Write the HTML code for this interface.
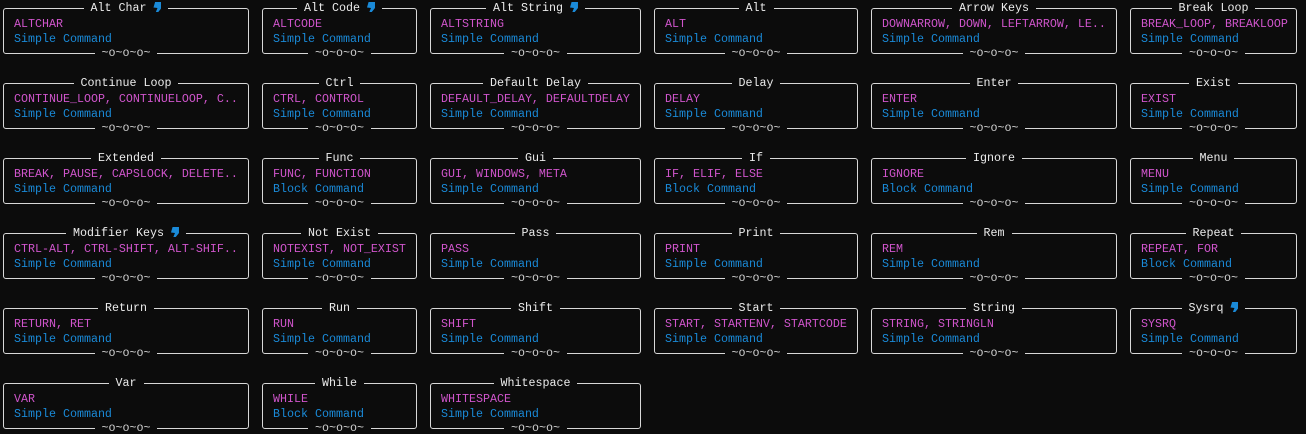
<!DOCTYPE html>
<html><head><meta charset="utf-8"><style>
html,body{margin:0;padding:0;background:#0c0c0c;width:1306px;height:434px;overflow:hidden}
body{position:relative;font-family:"Liberation Mono",monospace;font-size:11.67px;line-height:15px}
.b{position:absolute;box-sizing:border-box;height:46px;border:1px solid #d8d8d8;border-radius:3px}
.t{position:absolute;top:-8px;left:0;right:0;text-align:center;white-space:nowrap}
.t span{background:#0c0c0c;color:#ececec;padding:0 7px}
.f{position:absolute;bottom:-8px;left:0;right:0;text-align:center;white-space:nowrap}
.f span{background:#0c0c0c;color:#cfcfcf;padding:0 7px}
.l1,.l2{position:absolute;left:10px;white-space:nowrap}
.l1{top:8px;color:#d055cc}.l2{top:23px;color:#1a8ad8}
.c1{left:3px;width:246px}.c2{left:262px;width:155px}.c3{left:430px;width:211px}
.c4{left:654px;width:204px}.c5{left:871px;width:246px}.c6{left:1130px;width:167px}
.r0{top:8px}.r1{top:83px}.r2{top:158px}.r3{top:233px}.r4{top:308px}.r5{top:383px}
.i{display:inline-block;width:8px;height:10px;background:#1a8ad8;clip-path:polygon(20% 0,100% 0,100% 60%,60% 100%,30% 100%,50% 60%,0 55%);vertical-align:-1px;margin-left:7px}
</style></head><body>
<div class="b c1 r0"><div class="t"><span>Alt Char<i class="i"></i></span></div><div class="l1">ALTCHAR</div><div class="l2">Simple Command</div><div class="f"><span>~o~o~o~</span></div></div>
<div class="b c2 r0"><div class="t"><span>Alt Code<i class="i"></i></span></div><div class="l1">ALTCODE</div><div class="l2">Simple Command</div><div class="f"><span>~o~o~o~</span></div></div>
<div class="b c3 r0"><div class="t"><span>Alt String<i class="i"></i></span></div><div class="l1">ALTSTRING</div><div class="l2">Simple Command</div><div class="f"><span>~o~o~o~</span></div></div>
<div class="b c4 r0"><div class="t"><span>Alt</span></div><div class="l1">ALT</div><div class="l2">Simple Command</div><div class="f"><span>~o~o~o~</span></div></div>
<div class="b c5 r0"><div class="t"><span>Arrow Keys</span></div><div class="l1">DOWNARROW, DOWN, LEFTARROW, LE..</div><div class="l2">Simple Command</div><div class="f"><span>~o~o~o~</span></div></div>
<div class="b c6 r0"><div class="t"><span>Break Loop</span></div><div class="l1">BREAK_LOOP, BREAKLOOP</div><div class="l2">Simple Command</div><div class="f"><span>~o~o~o~</span></div></div>

<div class="b c1 r1"><div class="t"><span>Continue Loop</span></div><div class="l1">CONTINUE_LOOP, CONTINUELOOP, C..</div><div class="l2">Simple Command</div><div class="f"><span>~o~o~o~</span></div></div>
<div class="b c2 r1"><div class="t"><span>Ctrl</span></div><div class="l1">CTRL, CONTROL</div><div class="l2">Simple Command</div><div class="f"><span>~o~o~o~</span></div></div>
<div class="b c3 r1"><div class="t"><span>Default Delay</span></div><div class="l1">DEFAULT_DELAY, DEFAULTDELAY</div><div class="l2">Simple Command</div><div class="f"><span>~o~o~o~</span></div></div>
<div class="b c4 r1"><div class="t"><span>Delay</span></div><div class="l1">DELAY</div><div class="l2">Simple Command</div><div class="f"><span>~o~o~o~</span></div></div>
<div class="b c5 r1"><div class="t"><span>Enter</span></div><div class="l1">ENTER</div><div class="l2">Simple Command</div><div class="f"><span>~o~o~o~</span></div></div>
<div class="b c6 r1"><div class="t"><span>Exist</span></div><div class="l1">EXIST</div><div class="l2">Simple Command</div><div class="f"><span>~o~o~o~</span></div></div>

<div class="b c1 r2"><div class="t"><span>Extended</span></div><div class="l1">BREAK, PAUSE, CAPSLOCK, DELETE..</div><div class="l2">Simple Command</div><div class="f"><span>~o~o~o~</span></div></div>
<div class="b c2 r2"><div class="t"><span>Func</span></div><div class="l1">FUNC, FUNCTION</div><div class="l2">Block Command</div><div class="f"><span>~o~o~o~</span></div></div>
<div class="b c3 r2"><div class="t"><span>Gui</span></div><div class="l1">GUI, WINDOWS, META</div><div class="l2">Simple Command</div><div class="f"><span>~o~o~o~</span></div></div>
<div class="b c4 r2"><div class="t"><span>If</span></div><div class="l1">IF, ELIF, ELSE</div><div class="l2">Block Command</div><div class="f"><span>~o~o~o~</span></div></div>
<div class="b c5 r2"><div class="t"><span>Ignore</span></div><div class="l1">IGNORE</div><div class="l2">Block Command</div><div class="f"><span>~o~o~o~</span></div></div>
<div class="b c6 r2"><div class="t"><span>Menu</span></div><div class="l1">MENU</div><div class="l2">Simple Command</div><div class="f"><span>~o~o~o~</span></div></div>

<div class="b c1 r3"><div class="t"><span>Modifier Keys<i class="i"></i></span></div><div class="l1">CTRL-ALT, CTRL-SHIFT, ALT-SHIF..</div><div class="l2">Simple Command</div><div class="f"><span>~o~o~o~</span></div></div>
<div class="b c2 r3"><div class="t"><span>Not Exist</span></div><div class="l1">NOTEXIST, NOT_EXIST</div><div class="l2">Simple Command</div><div class="f"><span>~o~o~o~</span></div></div>
<div class="b c3 r3"><div class="t"><span>Pass</span></div><div class="l1">PASS</div><div class="l2">Simple Command</div><div class="f"><span>~o~o~o~</span></div></div>
<div class="b c4 r3"><div class="t"><span>Print</span></div><div class="l1">PRINT</div><div class="l2">Simple Command</div><div class="f"><span>~o~o~o~</span></div></div>
<div class="b c5 r3"><div class="t"><span>Rem</span></div><div class="l1">REM</div><div class="l2">Simple Command</div><div class="f"><span>~o~o~o~</span></div></div>
<div class="b c6 r3"><div class="t"><span>Repeat</span></div><div class="l1">REPEAT, FOR</div><div class="l2">Block Command</div><div class="f"><span>~o~o~o~</span></div></div>

<div class="b c1 r4"><div class="t"><span>Return</span></div><div class="l1">RETURN, RET</div><div class="l2">Simple Command</div><div class="f"><span>~o~o~o~</span></div></div>
<div class="b c2 r4"><div class="t"><span>Run</span></div><div class="l1">RUN</div><div class="l2">Simple Command</div><div class="f"><span>~o~o~o~</span></div></div>
<div class="b c3 r4"><div class="t"><span>Shift</span></div><div class="l1">SHIFT</div><div class="l2">Simple Command</div><div class="f"><span>~o~o~o~</span></div></div>
<div class="b c4 r4"><div class="t"><span>Start</span></div><div class="l1">START, STARTENV, STARTCODE</div><div class="l2">Simple Command</div><div class="f"><span>~o~o~o~</span></div></div>
<div class="b c5 r4"><div class="t"><span>String</span></div><div class="l1">STRING, STRINGLN</div><div class="l2">Simple Command</div><div class="f"><span>~o~o~o~</span></div></div>
<div class="b c6 r4"><div class="t"><span>Sysrq<i class="i"></i></span></div><div class="l1">SYSRQ</div><div class="l2">Simple Command</div><div class="f"><span>~o~o~o~</span></div></div>

<div class="b c1 r5"><div class="t"><span>Var</span></div><div class="l1">VAR</div><div class="l2">Simple Command</div><div class="f"><span>~o~o~o~</span></div></div>
<div class="b c2 r5"><div class="t"><span>While</span></div><div class="l1">WHILE</div><div class="l2">Block Command</div><div class="f"><span>~o~o~o~</span></div></div>
<div class="b c3 r5"><div class="t"><span>Whitespace</span></div><div class="l1">WHITESPACE</div><div class="l2">Simple Command</div><div class="f"><span>~o~o~o~</span></div></div>
</body></html>
